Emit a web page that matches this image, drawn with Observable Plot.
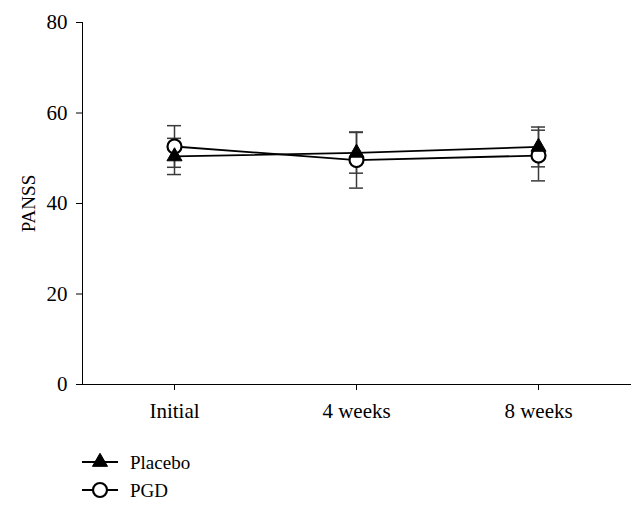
<!DOCTYPE html>
<html>
<head>
<meta charset="utf-8">
<script src="https://cdn.jsdelivr.net/npm/d3@7"></script>
<script src="https://cdn.jsdelivr.net/npm/@observablehq/plot@0.6"></script>
<style>
  body { margin: 0; background: white; }
  svg { display: block; }
  #legend text { font-family: "Liberation Serif", serif; font-size: 19px; }
</style>
</head>
<body>
<div id="chart"></div>
<script>
const categories = ["Initial", "4 weeks", "8 weeks"];
const placeboMean = [50.4, 51.2, 52.5];
const placeboErr = [4.0, 4.5, 4.4];
const pgdMean = [52.6, 49.6, 50.6];
const pgdErr = [4.6, 6.2, 5.6];
const yTicks = [0, 20, 40, 60, 80];
const seriesNames = ["Placebo", "PGD"];
const yLabel = "PANSS";

const placebo = categories.map((c, i) => ({cat: c, m: placeboMean[i], lo: placeboMean[i] - placeboErr[i], hi: placeboMean[i] + placeboErr[i]}));
const pgd = categories.map((c, i) => ({cat: c, m: pgdMean[i], lo: pgdMean[i] - pgdErr[i], hi: pgdMean[i] + pgdErr[i]}));

const capInset = 84;
const errStyle = {stroke: "#3a3a3a", strokeWidth: 1.5};

const chart = Plot.plot({
  width: 642,
  height: 432,
  marginLeft: 82,
  marginRight: 12,
  marginTop: 22,
  marginBottom: 48,
  style: {fontFamily: "Liberation Serif, serif", fontSize: "21px", color: "#000", background: "white"},
  x: {type: "band", domain: categories, padding: 0, label: null, tickSize: 6, tickPadding: 13, line: true},
  y: {domain: [0, 80], ticks: yTicks, tickSize: 6, tickPadding: 9, label: null, line: true},
  marks: [
    Plot.text([yLabel], {frameAnchor: "left", textAnchor: "middle", rotate: -90, dx: -54, text: d => d, fontSize: 19}),
    // error bars
    Plot.ruleX(pgd, {x: "cat", y1: "lo", y2: "hi", ...errStyle}),
    Plot.tickY(pgd, {x: "cat", y: "lo", insetLeft: capInset, insetRight: capInset, ...errStyle}),
    Plot.tickY(pgd, {x: "cat", y: "hi", insetLeft: capInset, insetRight: capInset, ...errStyle}),
    Plot.ruleX(placebo, {x: "cat", y1: "lo", y2: "hi", ...errStyle}),
    Plot.tickY(placebo, {x: "cat", y: "lo", insetLeft: capInset, insetRight: capInset, ...errStyle}),
    Plot.tickY(placebo, {x: "cat", y: "hi", insetLeft: capInset, insetRight: capInset, ...errStyle}),
    // lines
    Plot.line(pgd, {x: "cat", y: "m", stroke: "black", strokeWidth: 1.8}),
    Plot.line(placebo, {x: "cat", y: "m", stroke: "black", strokeWidth: 1.8}),
    // markers
    Plot.dot(pgd, {x: "cat", y: "m", r: 7, symbol: "circle", fill: "white", stroke: "black", strokeWidth: 2.2}),
    Plot.dot(placebo, {x: "cat", y: "m", r: 5.6, symbol: "triangle", fill: "black", stroke: "black", strokeWidth: 1})
  ]
});
document.getElementById("chart").appendChild(chart);

// legend below the chart
const lg = d3.select("body").append("svg").attr("id", "legend").attr("width", 642).attr("height", 78);
const rows = lg.selectAll("g").data(seriesNames).join("g").attr("transform", (d, i) => `translate(0, ${30 + i * 28})`);
rows.append("line").attr("x1", 82).attr("x2", 118).attr("y1", 0).attr("y2", 0).attr("stroke", "black").attr("stroke-width", 1.8);
rows.append("path")
  .attr("transform", "translate(100,0)")
  .attr("d", (d, i) => i === 0 ? d3.symbol(d3.symbolTriangle, Math.PI * 5.6 * 5.6)() : d3.symbol(d3.symbolCircle, Math.PI * 49)())
  .attr("fill", (d, i) => i === 0 ? "black" : "white")
  .attr("stroke", "black")
  .attr("stroke-width", (d, i) => i === 0 ? 1 : 2.2);
rows.append("text").attr("x", 130).attr("y", 0).attr("dy", "0.35em").text(d => d);
</script>
</body>
</html>
